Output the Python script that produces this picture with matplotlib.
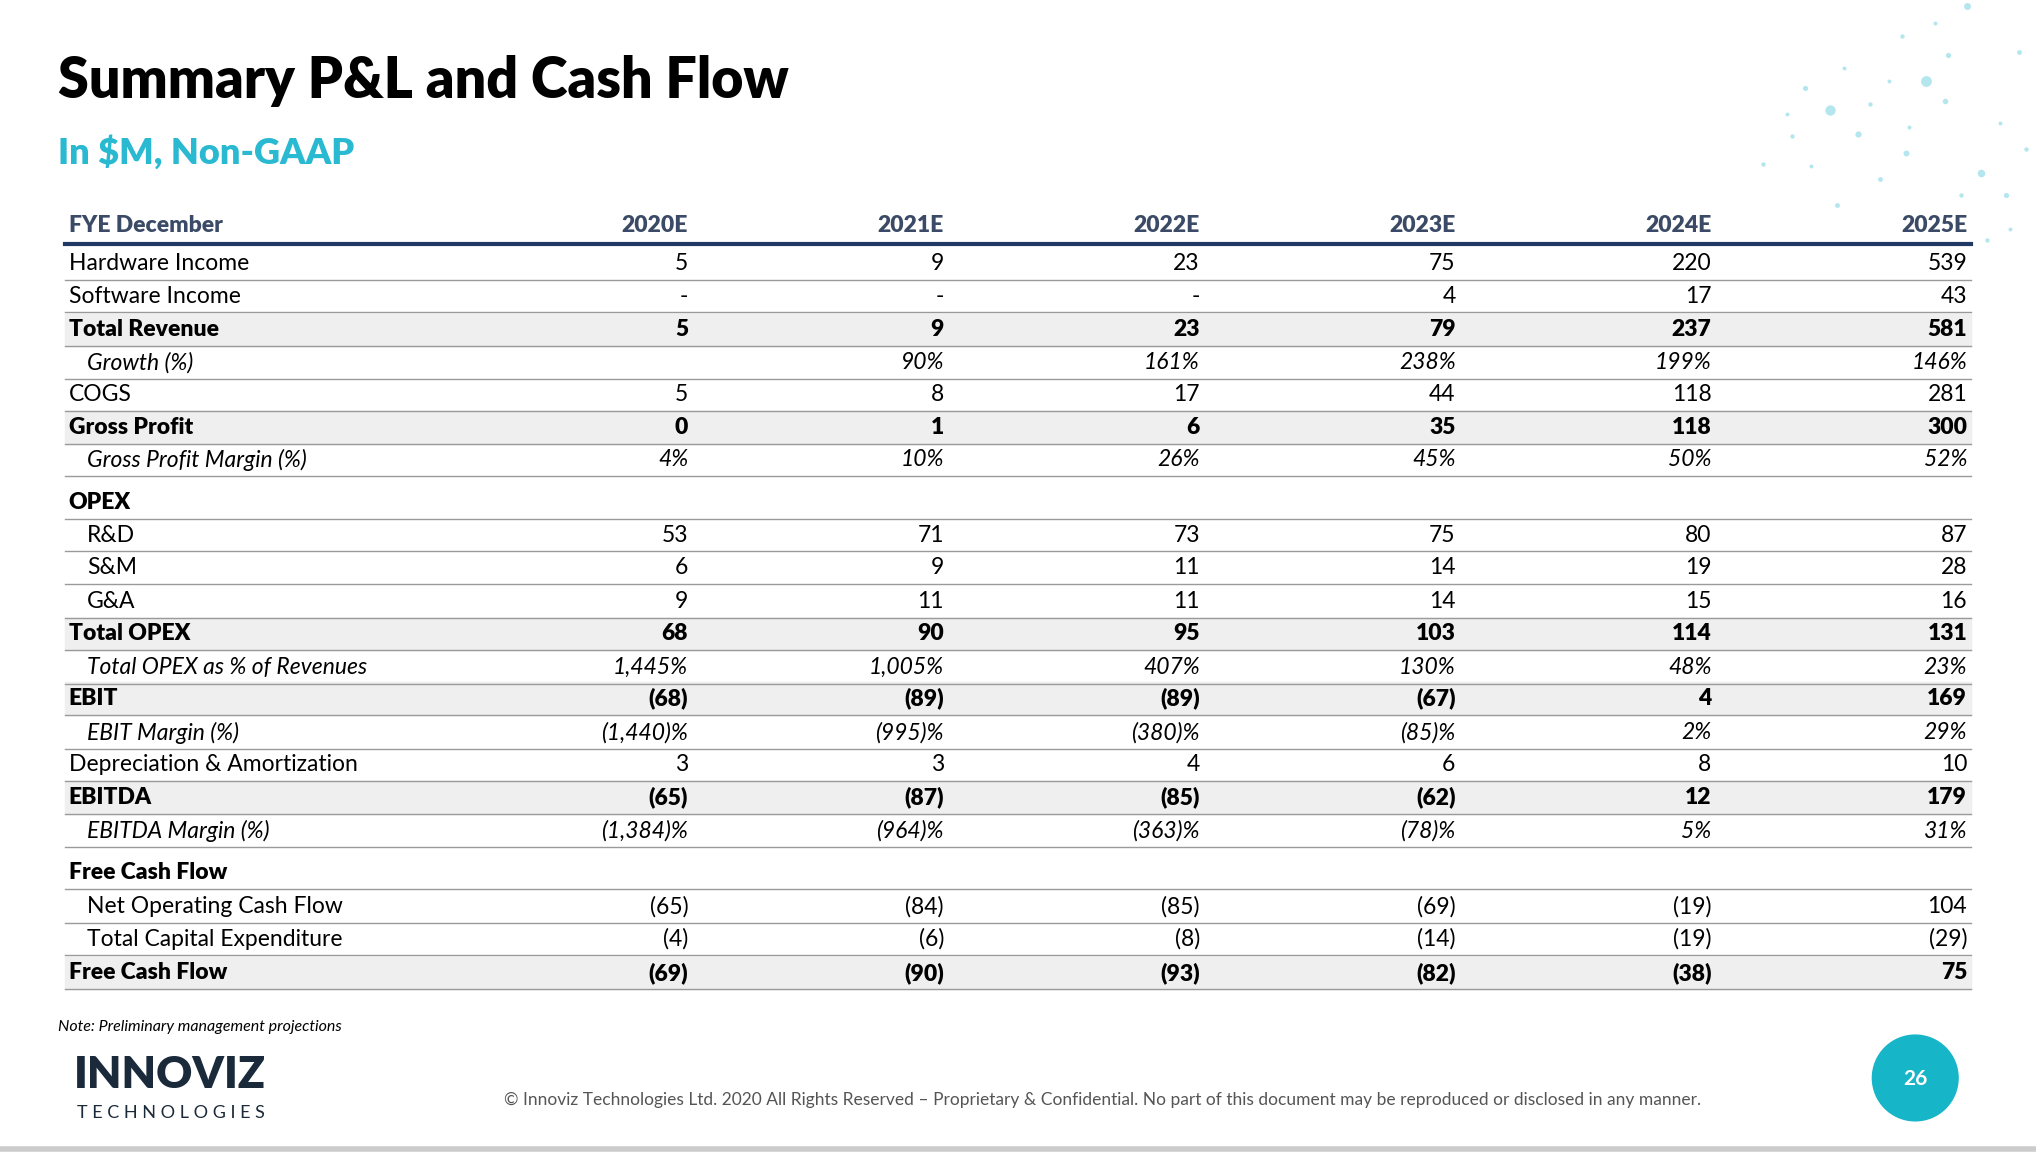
#!/usr/bin/env python3
import matplotlib.pyplot as plt
from matplotlib.patches import Circle


YEARS = ['2020E', '2021E', '2022E', '2023E', '2024E', '2025E']
# (label, values, style) style: n=normal, b=bold/shaded, i=italic, h=section header, s=sub item
ROWS = [
    ('Hardware Income', ['5', '9', '23', '75', '220', '539'], 'n'),
    ('Software Income', ['-', '-', '-', '4', '17', '43'], 'n'),
    ('Total Revenue', ['5', '9', '23', '79', '237', '581'], 'b'),
    ('Growth (%)', ['', '90%', '161%', '238%', '199%', '146%'], 'i'),
    ('COGS', ['5', '8', '17', '44', '118', '281'], 'n'),
    ('Gross Profit', ['0', '1', '6', '35', '118', '300'], 'b'),
    ('Gross Profit Margin (%)', ['4%', '10%', '26%', '45%', '50%', '52%'], 'i'),
    ('OPEX', None, 'h'),
    ('R&D', ['53', '71', '73', '75', '80', '87'], 's'),
    ('S&M', ['6', '9', '11', '14', '19', '28'], 's'),
    ('G&A', ['9', '11', '11', '14', '15', '16'], 's'),
    ('Total OPEX', ['68', '90', '95', '103', '114', '131'], 'b'),
    ('Total OPEX as % of Revenues', ['1,445%', '1,005%', '407%', '130%', '48%', '23%'], 'i'),
    ('EBIT', ['(68)', '(89)', '(89)', '(67)', '4', '169'], 'b'),
    ('EBIT Margin (%)', ['(1,440)%', '(995)%', '(380)%', '(85)%', '2%', '29%'], 'i'),
    ('Depreciation & Amortization', ['3', '3', '4', '6', '8', '10'], 'n'),
    ('EBITDA', ['(65)', '(87)', '(85)', '(62)', '12', '179'], 'b'),
    ('EBITDA Margin (%)', ['(1,384)%', '(964)%', '(363)%', '(78)%', '5%', '31%'], 'i'),
    ('Free Cash Flow', None, 'h'),
    ('Net Operating Cash Flow', ['(65)', '(84)', '(85)', '(69)', '(19)', '104'], 's'),
    ('Total Capital Expenditure', ['(4)', '(6)', '(8)', '(14)', '(19)', '(29)'], 's'),
    ('Free Cash Flow', ['(69)', '(90)', '(93)', '(82)', '(38)', '75'], 'b'),
]
ROW_Y = [203, 228, 254, 279, 304, 329, 354, 387, 412, 437, 463, 488, 514,
         538, 564, 589, 614, 640, 672, 698, 723, 749]
COL_X = [530, 727, 924, 1121, 1318, 1515]
TEAL = '#29b9d0'
NAVY = '#1f3864'
HEAD = '#3b4a66'
DOTS = [(1483, 62, 60), (1409, 85, 55), (1526, 133, 30), (1515, 5, 25), (1431, 103, 20),
        (1468, 118, 18), (1498, 78, 16), (1390, 68, 14), (1545, 150, 14), (1500, 42, 14),
        (1448, 138, 12), (1415, 158, 12), (1358, 126, 10), (1555, 40, 12), (1380, 105, 10),
        (1530, 185, 10), (1465, 28, 10), (1440, 80, 10), (1510, 150, 10), (1560, 115, 10),
        (1470, 98, 8), (1395, 128, 8), (1540, 95, 8), (1490, 18, 8), (1455, 62, 8),
        (1420, 52, 8), (1548, 176, 8), (1376, 88, 8)]


def draw(fname='out.png'):
    plt.rcParams['font.family'] = ['Lato', 'DejaVu Sans']
    fig = plt.figure(figsize=(20.36, 11.52), dpi=100)
    ax = fig.add_axes([0, 0, 1, 1])
    ax.set_xlim(0, 1568)
    ax.set_ylim(887, 0)
    ax.axis('off')

    ax.text(45, 62, 'Summary P&L and Cash Flow', fontsize=40, fontweight='heavy', va='center')
    ax.text(45, 117, 'In $M, Non-GAAP', fontsize=26, fontweight='heavy', color=TEAL, va='center')

    for x, y, s in DOTS:  # decoration
        ax.scatter(x, y, s=s, color=TEAL, alpha=0.35, linewidths=0)

    ax.text(53, 174, 'FYE December', fontsize=16.5, fontweight='heavy', color=HEAD, va='center')
    for x, yr in zip(COL_X, YEARS):
        ax.text(x, 174, yr, fontsize=16.5, fontweight='heavy', color=HEAD, va='center', ha='right')
    ax.plot([50, 1518], [188, 188], color=NAVY, lw=3)

    for (label, vals, style), y in zip(ROWS, ROW_Y):
        if style == 'b':
            ax.fill_between([50, 1518], y - 12.5, y + 12.5, color='#efefef', zorder=0)
        weight = 'heavy' if style in ('b', 'h') else 'normal'
        slant = 'italic' if style == 'i' else 'normal'
        lx = 67 if style in ('i', 's') else 53
        ax.text(lx, y, label, fontsize=16.5, fontweight=weight, style=slant, va='center')
        if vals is not None:
            for x, v in zip(COL_X, vals):
                ax.text(x, y, v, fontsize=16.5, fontweight=weight, style=slant,
                        va='center', ha='right')
        ax.plot([50, 1518], [y + 12.5, y + 12.5], color='#9a9a9a', lw=1)

    ax.text(45, 791, 'Note: Preliminary management projections', fontsize=11.5, style='italic', va='center')
    ax.text(57, 828, 'INNOVIZ', fontsize=32, fontweight='heavy', color='#1a2a3a', va='center')
    ax.text(59, 857, 'T E C H N O L O G I E S', fontsize=13, color='#1a2a3a', va='center')
    ax.text(1310, 847, '\u00a9 Innoviz Technologies Ltd. 2020 All Rights Reserved \u2013 Proprietary & '
            'Confidential. No part of this document may be reproduced or disclosed in any manner.',
            fontsize=12.5, color='#555555', va='center', ha='right')
    ax.add_patch(Circle((1475, 830), 33, color='#17b5c8'))
    ax.text(1475, 831, '26', fontsize=15, color='white', fontweight='bold', ha='center', va='center')
    ax.plot([0, 1568], [885, 885], color='#cccccc', lw=4)

    fig.savefig(fname)
    plt.close(fig)


def main():
    draw('out.png')


if __name__ == '__main__':
    main()
